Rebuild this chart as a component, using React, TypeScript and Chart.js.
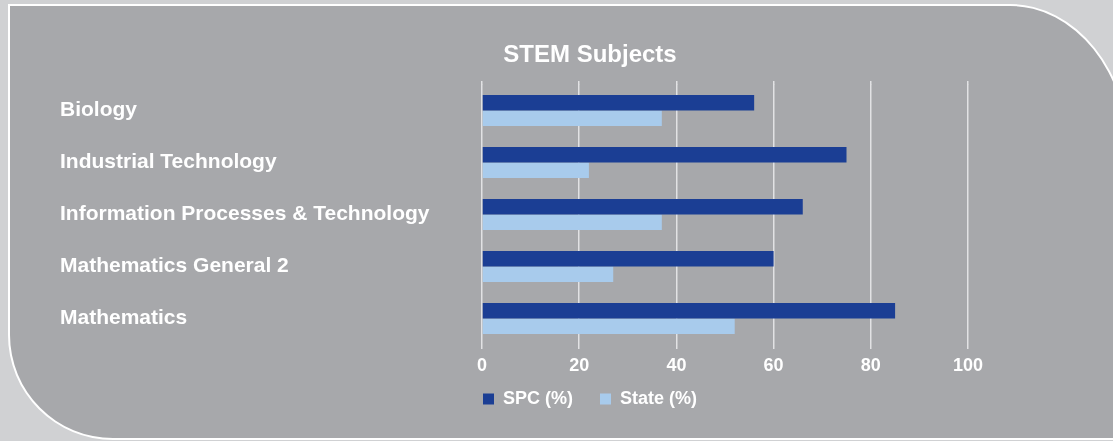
import React, { useEffect, useRef } from "react";
import { Chart, registerables } from "chart.js";

Chart.register(...registerables);

const categories = [
  "Biology",
  "Industrial Technology",
  "Information Processes & Technology",
  "Mathematics General 2",
  "Mathematics",
];
const spcValues = [56, 75, 66, 60, 85];
const stateValues = [37, 22, 37, 27, 52];
const seriesNames = ["SPC (%)", "State (%)"];
const chartTitle = "STEM Subjects";
const xMin = 0;
const xMax = 100;
const xStep = 20;

const FONT = '"Liberation Sans", Arial, Helvetica, sans-serif';
const GRID = "#e2e2e4";

export default function App() {
  const ref = useRef<HTMLCanvasElement | null>(null);

  useEffect(() => {
    if (!ref.current) return;
    const chart = new Chart(ref.current, {
      type: "bar",
      data: {
        labels: categories,
        datasets: [
          {
            label: seriesNames[0],
            data: spcValues,
            backgroundColor: "#1b3e94",
            borderWidth: 0,
            categoryPercentage: 0.6,
            barPercentage: 1.0,
          },
          {
            label: seriesNames[1],
            data: stateValues,
            backgroundColor: "#a8cbec",
            borderWidth: 0,
            categoryPercentage: 0.6,
            barPercentage: 1.0,
          },
        ],
      },
      options: {
        indexAxis: "y",
        animation: false,
        responsive: false,
        maintainAspectRatio: false,
        layout: { padding: { left: 60, top: 0, right: 0, bottom: 23 } },
        plugins: {
          tooltip: { enabled: false },
          title: {
            display: true,
            text: chartTitle,
            color: "#ffffff",
            font: { family: FONT, size: 24, weight: "bold", lineHeight: 1.2 },
            padding: { top: 40.6, bottom: 11.6 },
          },
          legend: {
            display: true,
            position: "bottom",
            labels: {
              color: "#ffffff",
              font: { family: FONT, size: 18, weight: "bold" },
              boxWidth: 11,
              boxHeight: 11,
              padding: 27,
            },
          },
        },
        scales: {
          x: {
            type: "linear",
            position: "bottom",
            min: xMin,
            max: xMax,
            ticks: {
              stepSize: xStep,
              color: "#ffffff",
              padding: 6,
              font: { family: FONT, size: 18, weight: "bold" },
            },
            grid: {
              color: GRID,
              lineWidth: 1.5,
              drawTicks: true,
              tickLength: 4.5,
            },
            border: { display: false },
            afterFit: (s: any) => {
              s.height = 18.5;
              // let the tick labels spill below the (shortened) axis box
              s._computeLabelArea = () => undefined;
            },
          },
          xTop: {
            type: "linear",
            position: "top",
            min: xMin,
            max: xMax,
            ticks: { stepSize: xStep, display: false },
            grid: {
              color: GRID,
              lineWidth: 1.5,
              drawOnChartArea: false,
              drawTicks: true,
              tickLength: 3.5,
            },
            border: { display: false },
            afterFit: (s: any) => {
              s.height = 3.5;
            },
          },
          y: {
            type: "category",
            position: "left",
            grid: { display: false },
            border: { display: false },
            ticks: {
              color: "#ffffff",
              crossAlign: "far",
              font: { family: FONT, size: 21, weight: "bold" },
            },
            afterFit: (s: any) => {
              s.width = 422;
            },
          },
          yRight: {
            type: "category",
            position: "right",
            grid: { display: false },
            border: { display: false },
            ticks: { display: false },
            afterFit: (s: any) => {
              s.width = 152;
            },
          },
        },
      },
    } as any);
    return () => chart.destroy();
  }, []);

  return (
    <div
      style={{
        position: "fixed",
        left: 0,
        top: 0,
        width: "100vw",
        height: "100vh",
        background: "#d0d1d3",
        overflow: "hidden",
      }}
    >
      <div
        style={{
          position: "absolute",
          left: 8,
          top: 4,
          width: 1122,
          height: 436,
          boxSizing: "border-box",
          border: "2px solid #ffffff",
          borderTopRightRadius: "120px 150px",
          borderBottomLeftRadius: "105px 105px",
          background: "#a7a8ab",
        }}
      />
      <canvas
        ref={ref}
        width={1120}
        height={441}
        style={{ position: "absolute", left: 0, top: 0, width: 1120, height: 441 }}
      />
    </div>
  );
}
